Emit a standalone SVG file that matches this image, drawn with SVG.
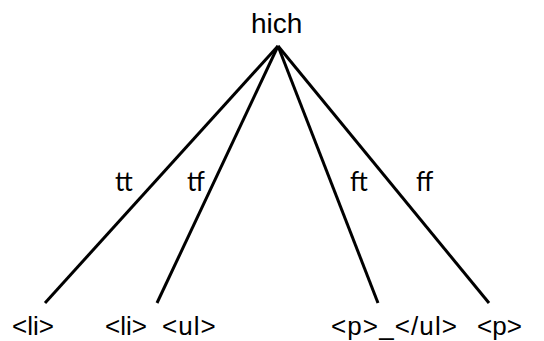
<svg xmlns="http://www.w3.org/2000/svg" width="544" height="341" viewBox="0 0 544 341">
<style>
text{font-family:"Liberation Sans",Arial,sans-serif;font-size:26px;fill:#000}
text.l{font-family:Lato,"Open Sans",sans-serif;font-size:26px}
.e{stroke:#000;stroke-width:3;fill:none}
</style>
<rect width="544" height="341" fill="#fff"/>
<g id="connectors">
<line class="e" x1="278" y1="46" x2="45" y2="303"/>
<line class="e" x1="278" y1="46" x2="157" y2="303"/>
<line class="e" x1="278" y1="46" x2="378" y2="303"/>
<line class="e" x1="278" y1="46" x2="489" y2="303"/>
<text class="l" x="115" y="191">tt</text>
<text class="l" x="187" y="191">tf</text>
<text class="l" x="350" y="191">ft</text>
<text class="l" x="416" y="191">ff</text>
</g>
<g id="root"><text x="251" y="33" style="font-size:28px">hich</text></g>
<g id="n1"><text x="12" y="335">&lt;li&gt;</text></g>
<g id="n2"><text x="105" y="335">&lt;li&gt;</text></g>
<g id="n3"><text x="162" y="335" letter-spacing="1">&lt;ul&gt;</text></g>
<g id="n4"><text x="331" y="335" textLength="126">&lt;p&gt;_&lt;/ul&gt;</text></g>
<g id="n5"><text x="477" y="335">&lt;p&gt;</text></g>
</svg>
